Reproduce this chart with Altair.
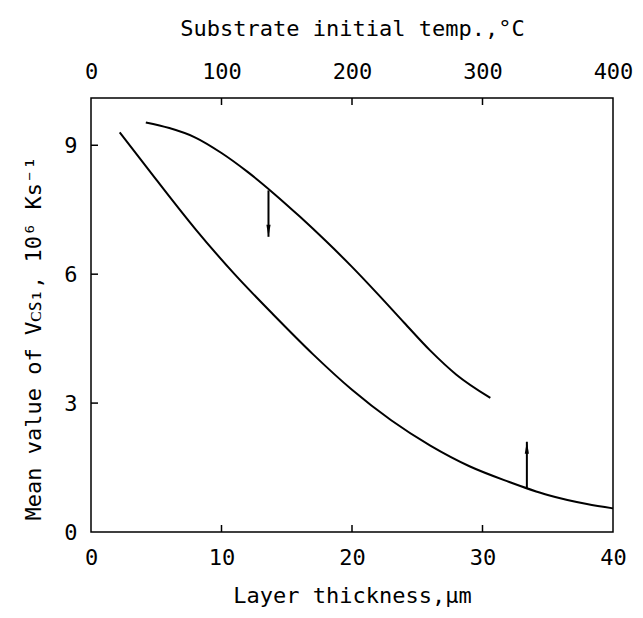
import altair as alt
import pandas as pd

# ---- data ----
lower_x = [2.2, 5, 8, 11, 14, 17, 20, 23, 26, 29, 32, 35, 38, 40]
lower_y = [9.3, 8.2, 7.05, 6.0, 5.05, 4.14, 3.31, 2.6, 2.01, 1.53, 1.17, 0.86, 0.65, 0.55]

upper_x = [4.2, 6, 8, 10, 12, 14, 16, 18, 20, 22, 24, 26, 28, 30.6]
upper_y = [9.53, 9.40, 9.18, 8.82, 8.38, 7.88, 7.34, 6.77, 6.17, 5.53, 4.87, 4.22, 3.66, 3.12]

arrow_x = [13.6, 33.4]
arrow_from = [7.95, 1.02]
arrow_to = [6.87, 2.10]
arrow_dir = ["down", "up"]

x_ticks = [0, 10, 20, 30, 40]
y_ticks = [0, 3, 6, 9]
top_ticks = [0, 100, 200, 300, 400]
inner_x_ticks = [10, 20, 30]
inner_y_ticks = [3, 6, 9]
inner_top_ticks = [100, 200, 300]

W, H = 522, 434
FONT = "DejaVu Sans Mono"

curves = pd.concat([
    pd.DataFrame({"x": lower_x, "y": lower_y, "curve": "lower"}),
    pd.DataFrame({"x": upper_x, "y": upper_y, "curve": "upper"}),
])
arrows = pd.DataFrame({"x": arrow_x, "y1": arrow_from, "y2": arrow_to, "dir": arrow_dir})

xscale = alt.Scale(domain=[0, 40], nice=False)
yscale = alt.Scale(domain=[0, 10.1], nice=False)

xaxis = alt.Axis(values=x_ticks, title="Layer  thickness,\u00b5m", tickSize=0, domain=False, grid=False,
                 labelPadding=15, labelFontSize=22, titleFontSize=22, titlePadding=17,
                 titleFontWeight="normal", labelFlush=False)
yaxis = alt.Axis(values=y_ticks, title="Mean value of V\u1d04\ua731\u2081, 10\u2076 Ks\u207b\u00b9",
                 tickSize=0, domain=False, grid=False, labelPadding=14, labelFontSize=22,
                 titleFontSize=22, titleFontWeight="normal", titlePadding=18, titleY=240)

lines = alt.Chart(curves).mark_line(color="black", strokeWidth=2, interpolate="monotone").encode(
    x=alt.X("x:Q", scale=xscale, axis=xaxis),
    y=alt.Y("y:Q", scale=yscale, axis=yaxis),
    detail="curve:N",
)

shafts = alt.Chart(arrows).mark_rule(color="black", strokeWidth=2).encode(
    x=alt.X("x:Q", scale=xscale), y=alt.Y("y1:Q", scale=yscale), y2="y2:Q"
)

head_down = alt.Chart(arrows).transform_filter(alt.datum.dir == "down").mark_point(
    shape="M-0.35,-2L0.35,-2L0,0Z", size=144, filled=True, color="black", opacity=1
).encode(x=alt.X("x:Q", scale=xscale), y=alt.Y("y2:Q", scale=yscale))

head_up = alt.Chart(arrows).transform_filter(alt.datum.dir == "up").mark_point(
    shape="M-0.35,2L0.35,2L0,0Z", size=144, filled=True, color="black", opacity=1
).encode(x=alt.X("x:Q", scale=xscale), y=alt.Y("y2:Q", scale=yscale))

bx = alt.Chart(pd.DataFrame({"t": inner_x_ticks})).mark_rule(color="black", strokeWidth=1.5).encode(
    x=alt.X("t:Q", scale=xscale), y=alt.value(H), y2=alt.value(H - 7)
)
ly = alt.Chart(pd.DataFrame({"t": inner_y_ticks})).mark_rule(color="black", strokeWidth=1.5).encode(
    y=alt.Y("t:Q", scale=yscale), x=alt.value(0), x2=alt.value(7)
)

main = alt.layer(lines, shafts, head_down, head_up, bx, ly)

top = alt.Chart(pd.DataFrame({"t": inner_top_ticks})).mark_rule(color="black", strokeWidth=1.5).encode(
    x=alt.X("t:Q", scale=alt.Scale(domain=[0, 400], nice=False),
            axis=alt.Axis(orient="top", values=top_ticks, title="Substrate initial temp.,\u00b0C",
                          tickSize=0, domain=False, grid=False, labelPadding=15, labelFontSize=22,
                          titleFontSize=22, titleFontWeight="normal", titlePadding=20, labelFlush=False)),
    y=alt.value(0), y2=alt.value(7),
)

chart = alt.layer(main, top).resolve_scale(x="independent").properties(
    width=W, height=H,
    padding={"left": 83, "top": 90, "right": 22, "bottom": 94},
    autosize=alt.AutoSizeParams(type="none"),
).configure_view(stroke="black", strokeWidth=1.5).configure_axis(
    labelFont=FONT, titleFont=FONT, labelColor="black", titleColor="black"
)

chart.save("out.html", embed_options={"renderer": "svg", "actions": False})
